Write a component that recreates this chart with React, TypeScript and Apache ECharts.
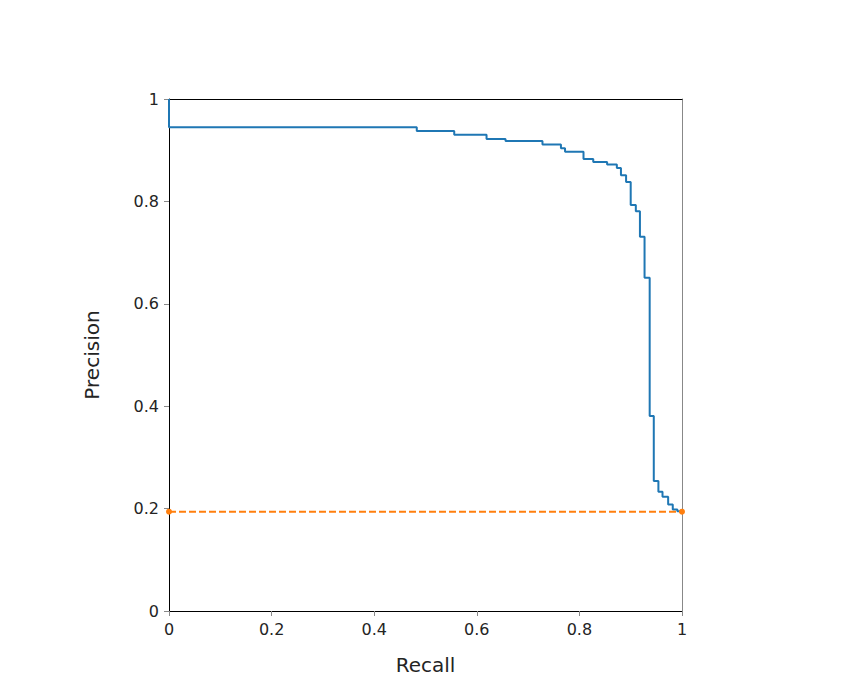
import React, { useEffect, useRef } from "react";
import * as echarts from "echarts";

const recall = [0, 0, 0.483, 0.556, 0.619, 0.656, 0.728, 0.764, 0.772, 0.808, 0.827, 0.854, 0.873, 0.881, 0.891, 0.9, 0.91, 0.918, 0.927, 0.937, 0.945, 0.954, 0.962, 0.973, 0.982, 0.991, 1.0];
const precision = [1.0, 0.945, 0.9375, 0.93, 0.922, 0.918, 0.911, 0.904, 0.897, 0.883, 0.877, 0.872, 0.865, 0.851, 0.838, 0.793, 0.781, 0.731, 0.651, 0.381, 0.254, 0.233, 0.223, 0.208, 0.198, 0.195, 0.195];
const baselineX = [0, 1];
const baselineY = [0.194, 0.194];
const xTitle = "Recall";
const yTitle = "Precision";

const fmt = (v: number) => (v === 0 ? "0" : v === 1 ? "1" : String(Math.round(v * 10) / 10));

export default function App() {
  const ref = useRef<HTMLDivElement>(null);
  useEffect(() => {
    document.body.style.margin = "0";
    if (!ref.current) return;
    const chart = echarts.init(ref.current, undefined, { renderer: "svg" });
    const font = "DejaVu Sans";
    const axisLabel = { fontFamily: font, fontSize: 16, color: "#242424", margin: 10, formatter: fmt };
    chart.setOption({
      animation: false,
      backgroundColor: "#fff",
      grid: { left: 169, top: 99, width: 513, height: 512, containLabel: false },
      xAxis: [
        {
          type: "value", min: 0, max: 1, interval: 0.2,
          axisLine: { show: true, lineStyle: { color: "#000", width: 1 } },
          axisTick: { show: true, length: 5, lineStyle: { color: "#888" } },
          splitLine: { show: false },
          axisLabel,
          name: xTitle, nameLocation: "middle", nameGap: 44,
          nameTextStyle: { fontFamily: font, fontSize: 20, color: "#242424" },
        },
        {
          type: "value", min: 0, max: 1, position: "top",
          axisLine: { show: true, onZero: false, lineStyle: { color: "#000", width: 1 } },
          axisTick: { show: false }, axisLabel: { show: false }, splitLine: { show: false },
        },
      ],
      yAxis: [
        {
          type: "value", min: 0, max: 1, interval: 0.2,
          axisLine: { show: true, lineStyle: { color: "#000", width: 1 } },
          axisTick: { show: true, length: 5, lineStyle: { color: "#888" } },
          splitLine: { show: false },
          axisLabel,
          name: yTitle, nameLocation: "middle", nameGap: 67,
          nameTextStyle: { fontFamily: font, fontSize: 20, color: "#242424" },
        },
        {
          type: "value", min: 0, max: 1, position: "right",
          axisLine: { show: true, onZero: false, lineStyle: { color: "#888", width: 1 } },
          axisTick: { show: false }, axisLabel: { show: false }, splitLine: { show: false },
        },
      ],
      series: [
        {
          type: "line",
          step: "end",
          data: recall.map((r, i) => [r, precision[i]]),
          showSymbol: false,
          symbol: "none",
          lineStyle: { color: "#1f77b4", width: 2 },
          clip: false,
        },
        {
          type: "line",
          data: baselineX.map((r, i) => [r, baselineY[i]]),
          symbol: "circle",
          symbolSize: 6,
          itemStyle: { color: "#ff7f0e" },
          lineStyle: { color: "#ff7f0e", width: 2, type: [7, 3] },
          clip: false,
        },
      ],
    });
    return () => chart.dispose();
  }, []);
  return <div ref={ref} style={{ width: 851, height: 692 }} />;
}
